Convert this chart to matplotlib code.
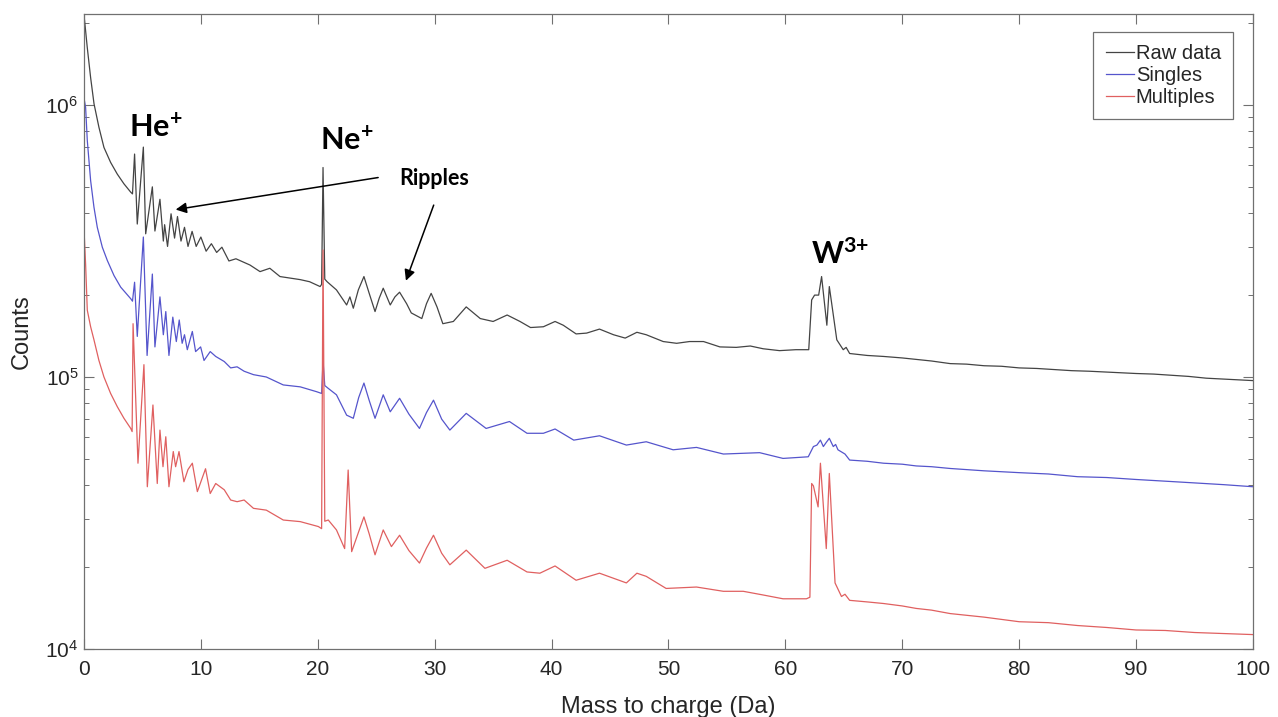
import matplotlib
matplotlib.use("Agg")
from matplotlib import pyplot as plt
from matplotlib.ticker import LogLocator, LogFormatterMathtext, MultipleLocator, NullFormatter

plt.rcParams["font.family"] = ["Liberation Sans", "DejaVu Sans"]
plt.rcParams["mathtext.fontset"] = "custom"
plt.rcParams["mathtext.rm"] = "Liberation Sans"
plt.rcParams["mathtext.bf"] = "Lato:bold"
plt.rcParams["mathtext.default"] = "regular"

# mass-to-charge spectrum, read as (Da, counts) points
raw_mz = [0.02, 0.1, 0.28, 0.57, 0.86, 1.28, 1.71, 2.28, 2.85, 3.42, 4.0, 4.15, 4.33, 4.56,
          5.08, 5.28, 5.85, 6.07, 6.5, 6.79, 6.9, 7.15, 7.45, 7.75, 8.0, 8.3, 8.6, 8.9,
          9.25, 9.6, 10.0, 10.45, 10.9, 11.35, 11.8, 12.4, 13.0, 13.5, 14.2, 15.06, 15.9,
          16.77, 17.6, 18.5, 19.3, 20.2, 20.33, 20.45, 20.6, 20.8, 21.6, 22.47, 22.75,
          23.04, 23.47, 23.95, 24.4, 24.9, 25.26, 25.6, 26.2, 26.6, 27.0, 27.6, 28.0, 28.9,
          29.3, 29.7, 30.2, 30.7, 31.6, 32.7, 33.9, 35.0, 36.2, 37.3, 38.2, 39.3, 40.3,
          41.0, 42.1, 43.0, 44.1, 45.3, 46.3, 47.3, 48.1, 49.55, 50.7, 51.8, 53.0, 54.4,
          55.8, 57.0, 58.1, 59.5, 60.9, 62.0, 62.25, 62.5, 62.85, 63.1, 63.4, 63.55, 63.76,
          64.0, 64.4, 64.95, 65.2, 65.5, 67.0, 68.4, 70.0, 71.2, 72.5, 74.1, 75.5, 77.0,
          78.5, 80.0, 81.5, 83.0, 84.5, 86.0, 88.0, 90.0, 91.5, 93.0, 94.5, 96.0, 98.0,
          100.0]
raw_counts = [2.1e6, 1.95e6, 1.63e6, 1.26e6, 1.01e6, 8.28e5, 6.98e5, 6.15e5, 5.57e5, 5.13e5,
              4.78e5, 4.71e5, 6.6e5, 3.65e5, 7.0e5, 3.36e5, 5.0e5, 3.44e5, 4.5e5, 3.16e5,
              3.63e5, 3.02e5, 3.98e5, 3.24e5, 3.89e5, 3.16e5, 3.55e5, 3.02e5, 3.43e5, 3.02e5,
              3.27e5, 2.9e5, 3.09e5, 2.87e5, 3.0e5, 2.67e5, 2.72e5, 2.66e5, 2.58e5, 2.44e5,
              2.51e5, 2.34e5, 2.31e5, 2.28e5, 2.24e5, 2.15e5, 2.19e5, 5.89e5, 2.29e5, 2.24e5,
              2.09e5, 1.84e5, 1.97e5, 1.79e5, 2.09e5, 2.34e5, 2.03e5, 1.74e5, 1.95e5, 2.12e5,
              1.84e5, 1.97e5, 2.05e5, 1.86e5, 1.72e5, 1.64e5, 1.86e5, 2.03e5, 1.81e5, 1.57e5,
              1.6e5, 1.81e5, 1.64e5, 1.6e5, 1.69e5, 1.6e5, 1.52e5, 1.53e5, 1.6e5, 1.55e5,
              1.44e5, 1.45e5, 1.5e5, 1.43e5, 1.39e5, 1.46e5, 1.43e5, 1.35e5, 1.33e5, 1.35e5,
              1.35e5, 1.29e5, 1.285e5, 1.3e5, 1.27e5, 1.25e5, 1.26e5, 1.26e5, 1.92e5, 2.0e5,
              2.0e5, 2.34e5, 1.78e5, 1.55e5, 2.15e5, 1.82e5, 1.37e5, 1.26e5, 1.285e5, 1.22e5,
              1.2e5, 1.19e5, 1.175e5, 1.16e5, 1.145e5, 1.12e5, 1.115e5, 1.10e5, 1.095e5,
              1.08e5, 1.075e5, 1.065e5, 1.055e5, 1.05e5, 1.04e5, 1.03e5, 1.025e5, 1.015e5,
              1.005e5, 0.99e5, 0.98e5, 0.97e5]

singles_mz = [0.02, 0.14, 0.285, 0.57, 0.855, 1.14, 1.57, 2.0, 2.57, 3.14, 4.0, 4.15, 4.33,
              4.56, 5.08, 5.4, 5.85, 6.07, 6.5, 6.79, 7.0, 7.27, 7.6, 7.9, 8.15, 8.4, 8.6,
              8.84, 9.27, 9.55, 9.98, 10.27, 10.8, 11.27, 12.0, 12.55, 13.1, 13.7, 14.5, 15.6,
              17.05, 18.5, 19.9, 20.33, 20.45, 20.6, 20.9, 21.6, 22.47, 23.04, 23.5, 23.95,
              24.4, 24.9, 25.6, 26.2, 27.0, 27.8, 28.7, 29.3, 29.9, 30.6, 31.3, 32.7, 34.4,
              36.4, 37.9, 39.3, 40.3, 41.9, 44.1, 46.4, 48.1, 50.4, 52.4, 54.7, 57.8, 59.8,
              61.96, 62.4, 62.7, 63.0, 63.25, 63.5, 63.76, 64.1, 64.3, 64.5, 65.1, 65.5, 67.0,
              68.4, 70.0, 71.2, 72.5, 74.1, 77.0, 80.0, 82.5, 85.0, 87.5, 90.0, 92.5, 95.0,
              97.5, 100.0]
singles_counts = [1.05e6, 9.8e5, 7.4e5, 5.27e5, 4.21e5, 3.55e5, 3.0e5, 2.68e5, 2.36e5,
                  2.14e5, 1.94e5, 1.9e5, 2.23e5, 1.41e5, 3.27e5, 1.2e5, 2.39e5, 1.29e5,
                  1.97e5, 1.43e5, 1.74e5, 1.2e5, 1.66e5, 1.35e5, 1.62e5, 1.33e5, 1.43e5,
                  1.26e5, 1.47e5, 1.24e5, 1.29e5, 1.15e5, 1.24e5, 1.19e5, 1.14e5, 1.08e5,
                  1.09e5, 1.05e5, 1.02e5, 1.0e5, 9.35e4, 9.2e4, 8.83e4, 8.7e4, 1.15e5, 9.3e4,
                  9.08e4, 8.6e4, 7.24e4, 7.05e4, 8.4e4, 9.5e4, 8.2e4, 7.05e4, 8.6e4, 7.45e4,
                  8.35e4, 7.3e4, 6.47e4, 7.4e4, 8.22e4, 7.0e4, 6.38e4, 7.35e4, 6.47e4, 6.86e4,
                  6.21e4, 6.21e4, 6.44e4, 5.86e4, 6.08e4, 5.62e4, 5.78e4, 5.4e4, 5.51e4,
                  5.21e4, 5.27e4, 5.02e4, 5.09e4, 5.55e4, 5.62e4, 5.86e4, 5.55e4, 5.75e4,
                  5.95e4, 5.55e4, 5.65e4, 5.4e4, 5.21e4, 4.95e4, 4.9e4, 4.82e4, 4.78e4, 4.71e4,
                  4.68e4, 4.61e4, 4.52e4, 4.45e4, 4.4e4, 4.3e4, 4.27e4, 4.2e4, 4.14e4, 4.08e4,
                  4.02e4, 3.95e4]

multiples_mz = [0.02, 0.14, 0.285, 0.57, 0.855, 1.28, 1.71, 2.28, 2.85, 3.42, 4.0, 4.12, 4.2,
                4.62, 5.13, 5.42, 5.9, 6.27, 6.5, 6.76, 7.0, 7.27, 7.64, 7.84, 8.13, 8.55, 8.9,
                9.27, 9.7, 10.4, 10.8, 11.27, 12.0, 12.55, 13.1, 13.7, 14.5, 15.6, 17.05, 18.5,
                20.05, 20.33, 20.45, 20.6, 20.9, 21.6, 22.3, 22.6, 22.9, 23.5, 23.95, 24.4,
                24.9, 25.6, 26.3, 27.0, 27.8, 28.7, 29.3, 29.9, 30.6, 31.3, 32.7, 34.3, 36.2,
                37.9, 39.0, 40.3, 42.1, 44.1, 46.4, 47.3, 48.1, 49.8, 52.4, 54.7, 56.4, 58.1,
                59.8, 61.8, 62.1, 62.25, 62.4, 62.8, 63.0, 63.5, 63.76, 64.25, 64.8, 65.1,
                65.5, 67.0, 68.4, 70.0, 71.2, 72.5, 74.1, 77.0, 80.0, 82.5, 85.0, 87.5, 90.0,
                92.5, 95.0, 97.5, 100.0]
multiples_counts = [3.36e5, 2.6e5, 1.76e5, 1.53e5, 1.37e5, 1.15e5, 1.0e5, 8.7e4, 7.78e4,
                    7.05e4, 6.47e4, 6.3e4, 1.57e5, 4.82e4, 1.11e5, 3.95e4, 7.89e4, 4.06e4,
                    6.38e4, 4.68e4, 6.03e4, 3.95e4, 5.32e4, 4.68e4, 5.32e4, 4.12e4, 4.57e4,
                    4.82e4, 3.79e4, 4.6e4, 3.73e4, 4.06e4, 3.85e4, 3.53e4, 3.48e4, 3.53e4,
                    3.29e4, 3.24e4, 2.98e4, 2.94e4, 2.82e4, 2.77e4, 2.93e5, 2.95e4, 2.98e4,
                    2.74e4, 2.34e4, 4.55e4, 2.28e4, 2.7e4, 3.06e4, 2.65e4, 2.22e4, 2.74e4,
                    2.38e4, 2.62e4, 2.3e4, 2.07e4, 2.35e4, 2.62e4, 2.25e4, 2.04e4, 2.31e4,
                    1.98e4, 2.12e4, 1.92e4, 1.9e4, 2.02e4, 1.79e4, 1.9e4, 1.75e4, 1.9e4,
                    1.85e4, 1.67e4, 1.69e4, 1.63e4, 1.63e4, 1.58e4, 1.53e4, 1.53e4, 1.55e4,
                    4.06e4, 3.98e4, 3.33e4, 4.82e4, 2.34e4, 4.42e4, 1.75e4, 1.56e4, 1.59e4,
                    1.51e4, 1.49e4, 1.47e4, 1.44e4, 1.41e4, 1.39e4, 1.35e4, 1.31e4, 1.26e4,
                    1.25e4, 1.22e4, 1.2e4, 1.175e4, 1.17e4, 1.15e4, 1.14e4, 1.13e4]

series_labels = ["Raw data", "Singles", "Multiples"]
series_colors = ["#444444", "#5555cc", "#e06060"]

fig = plt.figure(figsize=(12.78, 7.17), dpi=100)
ax = fig.add_axes([0.0657, 0.0948, 0.9147, 0.8857])

for mz, counts, label, color in zip([raw_mz, singles_mz, multiples_mz],
                                    [raw_counts, singles_counts, multiples_counts],
                                    series_labels, series_colors):
    ax.plot(mz, counts, color=color, lw=0.9, label=label)

ax.set_yscale("log")
ax.set_xlim(0, 100)
ax.set_ylim(1e4, 2.16e6)
ax.xaxis.set_major_locator(MultipleLocator(10))
ax.yaxis.set_major_locator(LogLocator(base=10))
ax.yaxis.set_minor_locator(LogLocator(base=10, subs=range(2, 10)))
ax.yaxis.set_major_formatter(LogFormatterMathtext())
ax.yaxis.set_minor_formatter(NullFormatter())

for sp in ax.spines.values():
    sp.set_color("#707070")
    sp.set_linewidth(0.9)
ax.tick_params(which="both", direction="in", top=True, right=True, color="#707070",
               labelcolor="#262626", labelsize=15)
ax.tick_params(which="major", length=7, width=0.8)
ax.tick_params(axis="x", pad=8)
ax.tick_params(axis="y", pad=4)
ax.tick_params(which="minor", length=3.5, width=0.7)

ax.set_xlabel("Mass to charge (Da)", fontsize=17, color="#262626")
ax.set_ylabel("Counts", fontsize=17, color="#262626")
ax.xaxis.set_label_coords(0.5, -0.074)
ax.yaxis.set_label_coords(-0.044, 0.5)

leg = ax.legend(loc="upper right", bbox_to_anchor=(0.983, 0.972), borderaxespad=0,
                fontsize=14.5, handlelength=1.4, handletextpad=0.1, labelspacing=0.15,
                borderpad=0.6, fancybox=False, framealpha=1)
leg.get_frame().set_edgecolor("#707070")
leg.get_frame().set_linewidth(0.9)
for t in leg.get_texts():
    t.set_color("#262626")

# peak labels and ripple arrows
ax.text(6.16, 8.17e5, r"$\mathbf{He^{+}}$", fontsize=22, ha="center", va="center")
ax.text(22.5, 7.31e5, r"$\mathbf{Ne^{+}}$", fontsize=22, ha="center", va="center")
ax.text(64.7, 2.79e5, r"$\mathbf{W^{3{+}}}$", fontsize=22, ha="center", va="center")
ax.text(30.0, 5.35e5, "Ripples", fontsize=15.5, fontweight="bold", family=["Lato", "DejaVu Sans"],
        ha="center", va="center")
ax.annotate("", xy=(7.61, 4.11e5), xytext=(25.4, 5.43e5),
            arrowprops=dict(arrowstyle="-|>", color="k", lw=1.1, mutation_scale=16))
ax.annotate("", xy=(27.46, 2.21e5), xytext=(30.0, 4.38e5),
            arrowprops=dict(arrowstyle="-|>", color="k", lw=1.1, mutation_scale=16))

fig.savefig("out.png", dpi=100)
